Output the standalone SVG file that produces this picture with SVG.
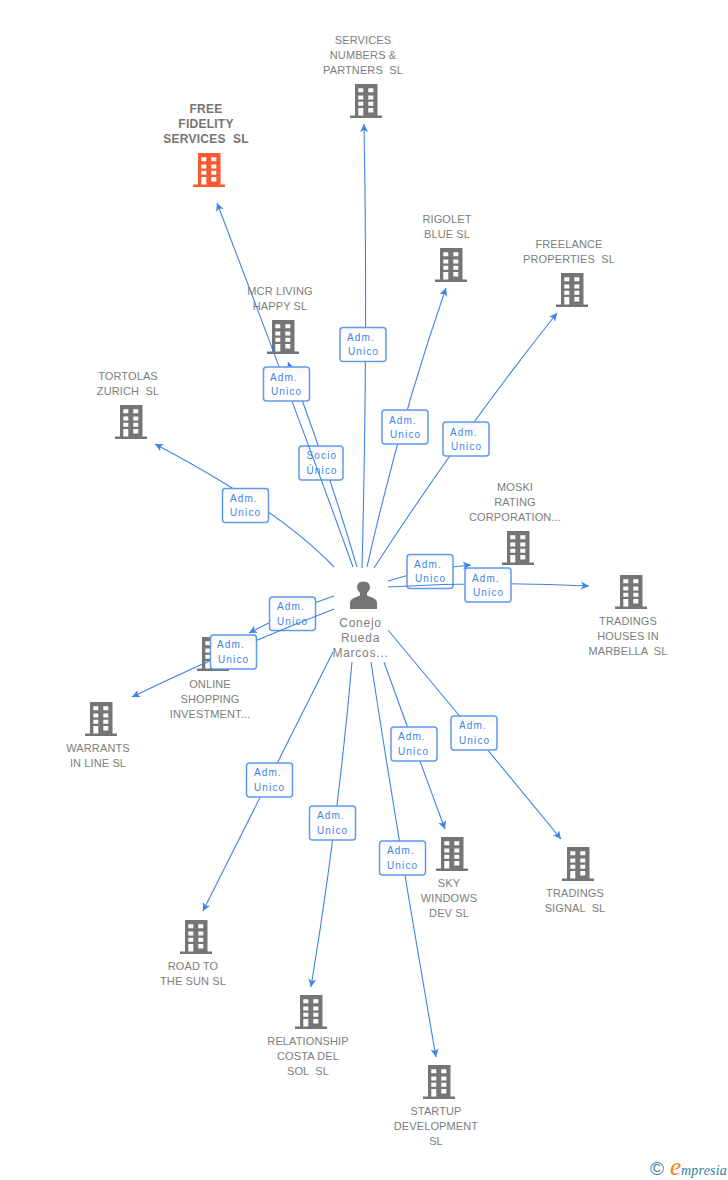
<svg xmlns="http://www.w3.org/2000/svg" width="728" height="1180" viewBox="0 0 728 1180">
<style>
text{font-family:"Liberation Sans",Arial,sans-serif;white-space:pre}
.n{font-size:11px;fill:#7d7d7d;text-anchor:middle;letter-spacing:.12px}
.b{font-size:12px;font-weight:bold;letter-spacing:.25px;fill:#757575}
.p{font-size:12px;letter-spacing:.75px;fill:#808080}
.l{fill:none;stroke:#3d84e6;stroke-width:1.1;marker-end:url(#a)}
.r{fill:url(#w);stroke:#5f9bec;stroke-width:1.5}
.t{font-size:10px;fill:#3d84e6;letter-spacing:1.15px}
</style>
<defs>
<linearGradient id="w" x1="0" y1="0" x2="0" y2="1"><stop offset="0" stop-color="#f6f6f6"/><stop offset=".35" stop-color="#fff"/><stop offset="1" stop-color="#fff"/></linearGradient>
<marker id="a" markerUnits="userSpaceOnUse" markerWidth="12" markerHeight="12" refX="8" refY="5" orient="auto"><path d="M0 1 L8 5 L0 9 L2 5Z" fill="#3d84e6"/></marker>
<path id="bp" fill-rule="evenodd" d="M5 0H27.500V31.500H32V34H0V31.500H5ZM8.300 4.300V8.300H13.300V4.300ZM18.300 4.300V8.300H23.300V4.300ZM8.300 11.500V15.500H13.300V11.500ZM18.300 11.500V15.500H23.300V11.500ZM8.300 17.700V21.700H13.300V17.700ZM18.300 17.700V21.700H23.300V17.700ZM8.300 24V31.500H13.300V24ZM18.300 24V28.500H23.300V24Z"/>
</defs>
<g id="node-services"><text class="n" x="363" y="44">SERVICES</text><text class="n" x="363" y="59">NUMBERS &amp;</text><text class="n" x="363" y="74">PARTNERS  SL</text><use href="#bp" x="350" y="84" fill="#757575"/></g>
<g id="node-free"><text class="n b" x="206" y="113">FREE</text><text class="n b" x="206" y="128">FIDELITY</text><text class="n b" x="206" y="143">SERVICES  SL</text><use href="#bp" x="193" y="153" fill="#fb5a30"/></g>
<g id="node-rigolet"><text class="n" x="447" y="223">RIGOLET</text><text class="n" x="447" y="238">BLUE SL</text><use href="#bp" x="435" y="248" fill="#757575"/></g>
<g id="node-freelance"><text class="n" x="569" y="248">FREELANCE</text><text class="n" x="569" y="263">PROPERTIES  SL</text><use href="#bp" x="556" y="273" fill="#757575"/></g>
<g id="node-mcr"><text class="n" x="280" y="295">MCR LIVING</text><text class="n" x="280" y="310">HAPPY SL</text><use href="#bp" x="267" y="320" fill="#757575"/></g>
<g id="node-tortolas"><text class="n" x="128" y="380">TORTOLAS</text><text class="n" x="128" y="395">ZURICH  SL</text><use href="#bp" x="115" y="405" fill="#757575"/></g>
<g id="node-moski"><text class="n" x="515" y="491">MOSKI</text><text class="n" x="515" y="506">RATING</text><text class="n" x="515" y="521">CORPORATION...</text><use href="#bp" x="502" y="531" fill="#757575"/></g>
<g id="node-houses"><use href="#bp" x="615" y="575" fill="#757575"/><text class="n" x="628" y="625">TRADINGS</text><text class="n" x="628" y="640">HOUSES IN</text><text class="n" x="628" y="655">MARBELLA  SL</text></g>
<g id="node-online"><use href="#bp" x="197" y="637" fill="#757575"/><text class="n" x="210" y="688">ONLINE</text><text class="n" x="210" y="703">SHOPPING</text><text class="n" x="210" y="718">INVESTMENT...</text></g>
<g id="node-warrants"><use href="#bp" x="85" y="702" fill="#757575"/><text class="n" x="98" y="752">WARRANTS</text><text class="n" x="98" y="767">IN LINE SL</text></g>
<g id="node-sky"><use href="#bp" x="436" y="837" fill="#757575"/><text class="n" x="449" y="887">SKY</text><text class="n" x="449" y="902">WINDOWS</text><text class="n" x="449" y="917">DEV SL</text></g>
<g id="node-signal"><use href="#bp" x="562" y="847" fill="#757575"/><text class="n" x="575" y="897">TRADINGS</text><text class="n" x="575" y="912">SIGNAL  SL</text></g>
<g id="node-road"><use href="#bp" x="180" y="920" fill="#757575"/><text class="n" x="193" y="970">ROAD TO</text><text class="n" x="193" y="985">THE SUN SL</text></g>
<g id="node-relationship"><use href="#bp" x="295" y="995" fill="#757575"/><text class="n" x="308" y="1045">RELATIONSHIP</text><text class="n" x="308" y="1060">COSTA DEL</text><text class="n" x="308" y="1075">SOL  SL</text></g>
<g id="node-startup"><use href="#bp" x="423" y="1065" fill="#757575"/><text class="n" x="436" y="1115">STARTUP</text><text class="n" x="436" y="1130">DEVELOPMENT</text><text class="n" x="436" y="1145">SL</text></g>
<g id="node-person"><path d="M350 609V603Q350 599 355 597.500L360 595.500V593Q357 590.500 357 587.500Q357 581.500 363.500 581.500Q370 581.500 370 587.500Q370 590.500 367 593V595.500L372 597.500Q377 599 377 603V609Z" fill="#757575"/><text class="n p" x="360.500" y="627">Conejo</text><text class="n p" x="360.500" y="642">Rueda</text><text class="n p" x="360.500" y="657">Marcos...</text></g>
<g id="connectors">
<g><path class="l" d="M362 568Q368 340 364 124"/><rect class="r" x="340" y="327.500" width="46" height="34" rx="3"/><text class="t" x="347" y="341">Adm.</text><text class="t" x="348" y="355">Unico</text></g>
<g><path class="l" d="M367 567Q400 420 446 288"/><rect class="r" x="382" y="410" width="46" height="34" rx="3"/><text class="t" x="389" y="424">Adm.</text><text class="t" x="390" y="438">Unico</text></g>
<g><path class="l" d="M374 568Q460 435 557 313"/><rect class="r" x="443" y="422" width="46" height="34" rx="3"/><text class="t" x="450" y="436">Adm.</text><text class="t" x="451" y="450">Unico</text></g>
<g><path class="l" d="M334 567Q280 510 155 444"/><rect class="r" x="222.500" y="488.500" width="46" height="34" rx="3"/><text class="t" x="230" y="502">Adm.</text><text class="t" x="230" y="516">Unico</text></g>
<g><path class="l" d="M357 567Q327 465 288 362"/><rect class="r" x="299" y="446" width="44" height="34" rx="3"/><text class="t" x="306.500" y="459">Socio</text><text class="t" x="306.500" y="474">Único</text></g>
<g><path class="l" d="M353 567Q300 420 217 203"/><rect class="r" x="263.500" y="367" width="46" height="34" rx="3"/><text class="t" x="270" y="381">Adm.</text><text class="t" x="271" y="395">Unico</text></g>
<g><path class="l" d="M388 581Q430 568 471 565"/><rect class="r" x="407" y="554.500" width="46" height="34" rx="3"/><text class="t" x="414" y="568">Adm.</text><text class="t" x="415" y="582">Unico</text></g>
<g><path class="l" d="M388 587Q488 581 589 586"/><rect class="r" x="465" y="568" width="46" height="34" rx="3"/><text class="t" x="472" y="582">Adm.</text><text class="t" x="473" y="596">Unico</text></g>
<g><path class="l" d="M334 596Q292 610 249 633"/><rect class="r" x="269.500" y="597" width="46" height="33.500" rx="3"/><text class="t" x="277" y="610">Adm.</text><text class="t" x="277" y="625">Unico</text></g>
<g><path class="l" d="M334 609Q233 648 132 697"/><rect class="r" x="210.500" y="635" width="46" height="34" rx="3"/><text class="t" x="217" y="648">Adm.</text><text class="t" x="218" y="663">Unico</text></g>
<g><path class="l" d="M333 652Q269 780 203 911"/><rect class="r" x="246.500" y="763" width="46" height="34" rx="3"/><text class="t" x="254" y="776">Adm.</text><text class="t" x="254" y="791">Unico</text></g>
<g><path class="l" d="M352 662Q338 823 311 987"/><rect class="r" x="309.500" y="806" width="46" height="34" rx="3"/><text class="t" x="317" y="819">Adm.</text><text class="t" x="317" y="834">Unico</text></g>
<g><path class="l" d="M371 662Q401 858 436 1057"/><rect class="r" x="379.500" y="841" width="46" height="34" rx="3"/><text class="t" x="387" y="854">Adm.</text><text class="t" x="387" y="869">Unico</text></g>
<g><path class="l" d="M384 662Q412 740 445 829"/><rect class="r" x="391" y="727" width="46" height="34" rx="3"/><text class="t" x="398" y="740">Adm.</text><text class="t" x="398" y="755">Unico</text></g>
<g><path class="l" d="M388 630Q474 733 561 839"/><rect class="r" x="451" y="716" width="46" height="34" rx="3"/><text class="t" x="459" y="729">Adm.</text><text class="t" x="459" y="744">Unico</text></g>
</g>
<g id="logo"><text x="650" y="1175" style="font-size:19px;fill:#3f7f9f">©</text><text x="670" y="1175" style="font-family:'Liberation Serif',serif;font-style:italic;font-size:25px;fill:#f08020">e</text><text x="681" y="1175" style="font-family:'Liberation Serif',serif;font-style:italic;font-size:14px;fill:#2f7f9f;letter-spacing:.2px">mpresia</text></g>
</svg>
